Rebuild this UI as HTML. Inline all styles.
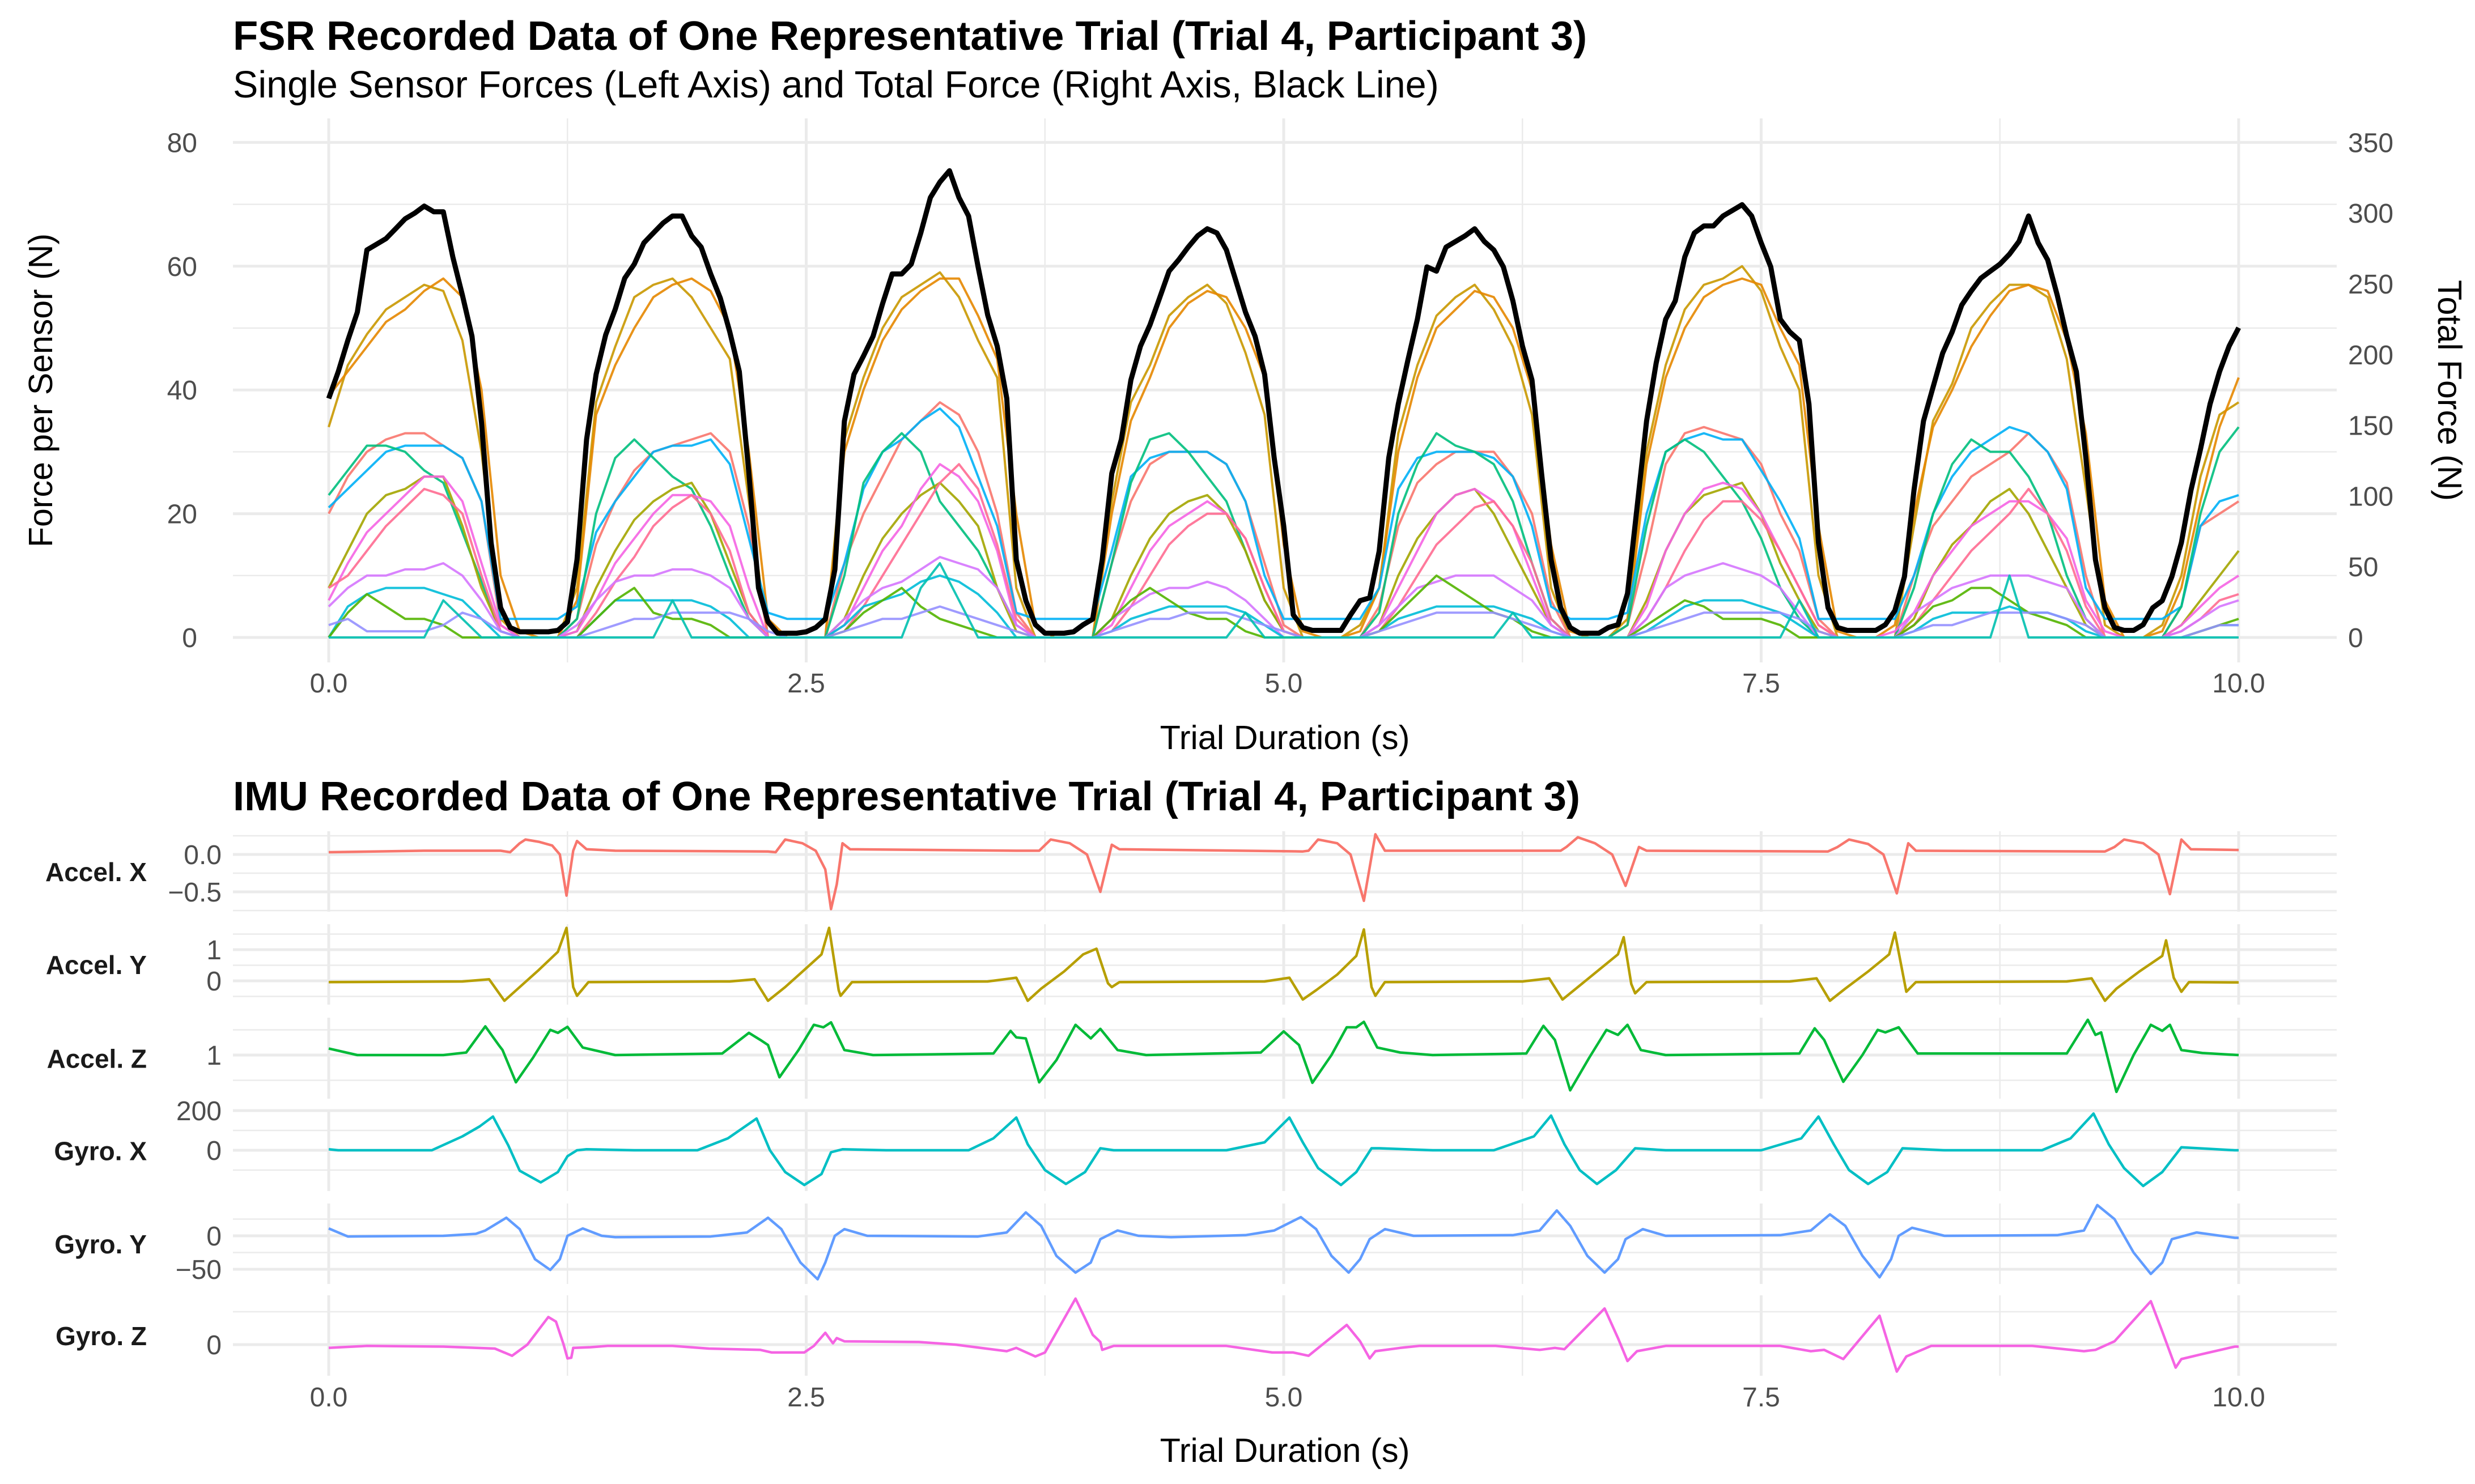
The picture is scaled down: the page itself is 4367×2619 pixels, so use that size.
<!DOCTYPE html>
<html><head><meta charset="utf-8">
<style>
html,body{margin:0;padding:0;background:#fff;}
svg{display:block;font-family:"Liberation Sans",Arial,sans-serif;}
</style></head>
<body>
<svg id="chart" width="4367" height="2619" viewBox="0 0 4367 2619" xmlns="http://www.w3.org/2000/svg">
<rect width="4367" height="2619" fill="#fff"/>
<g id="fsrGrid"></g>
<g id="fsrLines"></g>
<g id="fsrTotal"></g>
<g id="imu"></g>
<g id="txt">
<text x="411" y="88" font-size="72.5" font-weight="bold">FSR Recorded Data of One Representative Trial (Trial 4, Participant 3)</text>
<text x="411" y="172" font-size="66.5">Single Sensor Forces (Left Axis) and Total Force (Right Axis, Black Line)</text>
<text transform="translate(92,689) rotate(-90)" text-anchor="middle" font-size="59">Force per Sensor (N)</text>
<text transform="translate(4302,689) rotate(90)" text-anchor="middle" font-size="59">Total Force (N)</text>
<text x="2267" y="1322" text-anchor="middle" font-size="59.5">Trial Duration (s)</text>
<text x="411" y="1430" font-size="72.5" font-weight="bold">IMU Recorded Data of One Representative Trial (Trial 4, Participant 3)</text>
<text x="2267" y="2580" text-anchor="middle" font-size="59.5">Trial Duration (s)</text>
</g>
</svg>
<script>
// ---------- FSR data ----------
const totalTime0 = 0, totalStep = 0.05;
const totalForceN = [
169,188,210,230,274,278,282,289,296,300,305,301,301,269,242,213,152,67,21,7,
4,4,4,4,5,11,55,140,186,214,232,254,264,279,286,293,298,298,284,276,
257,240,216,188,116,35,11,3,3,3,4,7,13,48,153,186,199,213,236,257,
257,264,286,311,322,330,311,298,262,228,206,169,55,26,9,3,3,3,4,9,
13,55,116,140,182,206,221,240,259,267,276,284,289,286,274,252,230,213,186,127,
79,16,7,5,5,5,5,16,26,28,61,127,165,196,225,262,259,276,280,284,
289,280,274,262,238,206,182,116,55,21,7,3,3,3,7,9,31,92,153,194,
225,238,269,286,291,291,298,302,306,298,279,262,225,216,210,165,67,21,7,5,
5,5,5,9,19,43,104,153,177,201,216,235,245,254,259,264,271,280,298,279,
267,242,213,188,127,55,21,7,5,5,9,21,26,43,67,104,133,165,188,206,
219];
const sensorStep = 0.1;
const sensorNames = ['gold','orange','salmon','blue','teal-green','olive','pink','rose','purple','cyan','green','lavender','teal'];
const sensorColors = ['#C99800','#E58700','#F8766D','#00B0F6','#00BF7D','#A3A500','#F564E3','#FF6C91','#D575FE','#00BCD8','#53B400','#9590FF','#00C0AF'];
const sGold = [34,44,49,53,55,57,56,48,30,3, 0,0,0,8,38,47,55,57,58,55, 50,45,22,0,0,0,0,32,42,50, 55,57,59,55,48,42,8,0,0,0, 0,22,38,44,52,55,57,54,46,36, 8,0,0,0,2,8,33,44,52,55, 57,53,47,36,8,0,0,0,3,30, 44,53,57,58,60,56,47,40,10,0, 0,0,0,18,35,41,50,54,57,57, 55,45,24,2,0,0,2,10,26,36, 38];
const sOrange = [39,43,47,51,53,56,58,55,40,10, 1,0,0,6,36,44,50,55,57,58, 56,50,30,3,0,0,0,30,40,48, 53,56,58,58,52,45,20,2,0,0, 0,20,35,42,50,54,56,55,50,42, 15,1,0,0,1,8,30,42,50,53, 56,55,50,40,15,1,0,0,2,28, 42,50,55,57,58,57,50,44,18,1, 0,0,2,20,34,40,47,52,56,57, 56,48,33,6,0,0,1,8,22,34, 42];
const sSalmon = [20,26,30,32,33,33,31,29,22,2, 0,0,0,3,15,22,27,30,31,32, 33,30,18,0,0,0,0,12,20,26, 32,35,38,36,30,20,4,0,0,0, 0,12,22,28,30,30,30,28,22,12, 2,0,0,0,0,5,18,25,28,30, 30,30,26,20,6,0,0,0,2,14, 28,33,34,33,32,28,20,14,3,0, 0,0,0,10,18,22,26,28,30,33, 30,25,10,0,0,0,0,5,18,20, 22];
const sBlue = [21,24,27,30,31,31,31,29,22,3, 3,3,3,5,17,22,26,30,31,31, 32,28,16,4,3,3,3,12,24,30, 32,35,37,34,26,18,4,3,3,3, 3,14,26,29,30,30,30,28,22,10, 3,3,3,3,3,8,24,29,30,30, 30,29,26,18,5,3,3,3,4,20, 30,32,33,32,32,27,22,16,3,3, 3,3,3,10,20,26,30,32,34,33, 30,24,8,3,3,3,3,5,18,22, 23];
const sTealGreen = [23,27,31,31,30,27,25,17,9,1, 0,0,0,3,20,29,32,29,26,24, 18,10,3,0,0,0,0,10,25,30, 33,30,22,18,14,8,2,0,0,0, 0,12,25,32,33,30,26,22,14,6, 1,0,0,0,0,4,20,28,33,31, 30,28,22,12,3,0,0,0,2,18, 30,32,30,26,22,16,8,3,0,0, 0,0,0,8,20,28,32,30,30,26, 20,10,3,0,0,0,0,5,20,30, 34];
const sOlive = [8,14,20,23,24,26,26,18,8,1, 0,0,0,1,8,14,19,22,24,25, 20,12,4,0,0,0,0,3,10,16, 20,23,25,22,18,8,1,0,0,0, 0,3,10,16,20,22,23,20,14,6, 1,0,0,0,0,2,10,16,20,23, 24,20,14,8,2,0,0,0,0,6, 14,20,23,24,25,20,12,6,1,0, 0,0,0,3,10,15,18,22,24,20, 14,8,2,0,0,0,0,2,6,10, 14];
const sPink = [6,12,17,20,23,26,26,22,12,2, 0,0,0,1,6,12,16,20,23,23, 22,18,8,0,0,0,0,2,8,14, 18,24,28,26,22,14,2,0,0,0, 0,2,8,14,18,20,22,20,16,8, 1,0,0,0,0,2,8,14,20,23, 24,22,18,10,2,0,0,0,0,5, 14,20,24,25,24,20,14,8,2,0, 0,0,1,4,10,14,18,20,22,22, 20,16,6,1,0,0,0,2,5,8, 10];
const sRose = [8,10,14,18,21,24,23,20,10,1, 0,0,0,0,4,9,13,18,21,23, 20,14,4,0,0,0,0,1,5,10, 15,20,25,28,24,15,3,0,0,0, 0,1,5,10,15,18,20,20,16,8, 1,0,0,0,0,1,5,10,15,18, 21,22,18,12,3,0,0,0,0,3, 8,14,19,22,22,19,14,8,2,0, 0,0,0,2,6,10,14,17,20,24, 20,14,5,0,0,0,0,1,3,6, 7];
const sPurple = [5,8,10,10,11,11,12,10,6,1, 0,0,0,2,6,9,10,10,11,11, 10,8,3,0,0,0,0,3,6,8, 9,11,13,12,11,8,2,0,0,0, 0,3,5,7,8,8,9,8,6,3, 0,0,0,0,0,2,5,8,9,10, 10,10,8,6,2,0,0,0,0,3, 8,10,11,12,11,10,8,4,0,0, 0,0,0,4,6,8,9,10,10,10, 9,8,3,0,0,0,0,1,3,5, 6];
const sCyan = [0,5,7,8,8,8,7,6,3,0, 0,0,0,0,3,6,6,6,6,6, 5,3,0,0,0,0,0,2,5,6, 7,9,10,9,7,4,0,0,0,0, 0,1,3,4,5,5,5,5,4,2, 0,0,0,0,0,1,3,4,5,5, 5,5,4,3,1,0,0,0,0,1, 3,5,6,6,6,5,4,2,0,0, 0,0,0,1,3,4,4,4,5,4, 4,3,1,0,0,0,0,0,1,2, 2];
const sGreen = [0,4,7,5,3,3,2,0,0,0, 0,0,0,0,3,6,8,4,3,3, 2,0,0,0,0,0,0,1,4,6, 8,5,3,2,1,0,0,0,0,0, 0,3,6,8,6,4,3,3,1,0, 0,0,0,0,0,1,4,7,10,8, 6,4,3,1,0,0,0,0,0,2, 4,6,5,3,3,3,2,0,0,0, 0,0,0,2,5,6,8,8,6,4, 3,2,0,0,0,0,0,0,1,2, 3];
const sLavender = [2,3,1,1,1,1,2,4,3,1, 0,0,0,0,1,2,3,3,4,4, 4,4,3,1,0,0,0,1,2,3, 3,4,5,4,3,2,1,0,0,0, 0,1,2,3,3,4,4,4,3,2, 1,0,0,0,0,1,2,3,4,4, 4,4,3,2,1,0,0,0,0,1, 2,3,4,4,4,4,4,3,1,0, 0,0,0,1,2,2,3,4,4,4, 4,3,2,0,0,0,0,0,1,2, 2];
const sTeal = [0,0,0,0,0,0,6,3,0,0, 0,0,0,0,0,0,0,0,6,0, 0,0,0,0,0,0,0,0,0,0, 0,8,12,6,0,0,0,0,0,0, 0,0,0,0,0,0,0,0,4,0, 0,0,0,0,0,0,0,0,0,0, 0,0,4,0,0,0,0,0,0,0, 0,0,0,0,0,0,0,6,0,0, 0,0,0,0,0,0,0,0,10,0, 0,0,0,0,0,0,0,0,0,0, 0];
const sensorSeries = [sGold,sOrange,sSalmon,sBlue,sTealGreen,sOlive,sPink,sRose,sPurple,sCyan,sGreen,sLavender,sTeal];
const xTicks = [0, 2.5, 5, 7.5, 10];
const xTickLabels = ['0.0','2.5','5.0','7.5','10.0'];
const leftTicks = [0,20,40,60,80];
const rightTicks = [0,50,100,150,200,250,300,350];
const secAxisFactor = 4.375;

// ---------- IMU data (time, value) ----------
const axT = [0,0.5,0.9,0.95,1.0,1.03,1.1,1.17,1.21,1.245,1.28,1.30,1.35,1.5,2.3,2.34,2.39,2.48,2.55,2.6,2.63,2.66,2.69,2.73,3.6,3.72,3.78,3.88,3.97,4.04,4.1,4.14,5.1,5.13,5.18,5.28,5.35,5.42,5.48,5.53,6.45,6.48,6.54,6.63,6.72,6.79,6.86,6.9,7.85,7.9,7.96,8.06,8.14,8.21,8.27,8.31,9.3,9.35,9.4,9.5,9.58,9.64,9.7,9.75,10];
const axV = [0.03,0.05,0.05,0.03,0.15,0.2,0.17,0.12,0.0,-0.55,0.05,0.18,0.07,0.05,0.04,0.03,0.2,0.15,0.05,-0.2,-0.73,-0.4,0.15,0.07,0.05,0.05,0.2,0.15,0.0,-0.5,0.13,0.07,0.04,0.05,0.2,0.15,0.0,-0.62,0.27,0.05,0.05,0.1,0.23,0.15,0.0,-0.42,0.1,0.05,0.04,0.1,0.2,0.14,0.0,-0.52,0.15,0.05,0.04,0.1,0.2,0.15,0.0,-0.53,0.2,0.07,0.06];
const ayT = [0,0.7,0.84,0.92,1.0,1.1,1.2,1.245,1.28,1.3,1.36,2.1,2.23,2.30,2.39,2.49,2.58,2.62,2.67,2.68,2.74,3.45,3.6,3.66,3.73,3.85,3.95,4.02,4.08,4.1,4.14,4.9,5.03,5.1,5.17,5.28,5.38,5.42,5.46,5.48,5.53,6.25,6.39,6.46,6.54,6.65,6.75,6.78,6.82,6.84,6.9,7.65,7.79,7.86,7.94,8.06,8.17,8.2,8.26,8.31,9.1,9.23,9.3,9.36,9.48,9.6,9.62,9.66,9.7,9.74,10];
const ayV = [-0.04,-0.02,0.05,-0.64,-0.2,0.35,0.93,1.7,-0.2,-0.48,-0.04,-0.02,0.05,-0.64,-0.2,0.35,0.85,1.7,-0.3,-0.48,-0.04,-0.02,0.1,-0.64,-0.25,0.3,0.85,1.03,-0.08,-0.2,-0.04,-0.02,0.1,-0.6,-0.3,0.2,0.8,1.65,-0.2,-0.48,-0.04,-0.02,0.08,-0.6,-0.2,0.35,0.85,1.4,-0.1,-0.4,-0.04,-0.02,0.08,-0.64,-0.25,0.3,0.85,1.55,-0.35,-0.04,-0.02,0.08,-0.64,-0.25,0.3,0.8,1.3,0.1,-0.35,-0.04,-0.05];
const azT = [0,0.15,0.6,0.72,0.82,0.89,0.91,0.98,1.07,1.16,1.2,1.25,1.33,1.5,2.06,2.2,2.26,2.3,2.36,2.46,2.54,2.59,2.63,2.7,2.85,3.48,3.57,3.6,3.65,3.72,3.81,3.91,3.99,4.04,4.13,4.28,4.88,5.0,5.05,5.08,5.15,5.25,5.33,5.38,5.42,5.49,5.61,5.78,6.27,6.36,6.42,6.5,6.6,6.69,6.75,6.8,6.87,7.0,7.7,7.78,7.83,7.93,8.03,8.11,8.15,8.22,8.32,9.1,9.21,9.25,9.28,9.36,9.45,9.54,9.6,9.64,9.7,9.81,10];
const azV = [1.13,1.0,1.0,1.05,1.57,1.2,1.1,0.46,0.95,1.5,1.44,1.56,1.15,1.0,1.03,1.44,1.3,1.2,0.56,1.1,1.6,1.55,1.65,1.1,1.0,1.03,1.48,1.35,1.33,0.46,0.9,1.6,1.33,1.52,1.1,1.0,1.05,1.47,1.3,1.2,0.45,1.0,1.55,1.55,1.66,1.15,1.05,1.0,1.03,1.58,1.3,0.3,0.95,1.5,1.4,1.6,1.1,1.0,1.03,1.53,1.3,0.47,1.0,1.5,1.45,1.55,1.03,1.03,1.7,1.4,1.45,0.27,1.0,1.6,1.48,1.6,1.1,1.04,1.0];
const gxT = [0,0.05,0.54,0.7,0.79,0.86,0.94,1.0,1.11,1.2,1.25,1.3,1.35,1.6,1.93,2.09,2.24,2.31,2.39,2.49,2.58,2.63,2.69,2.92,3.35,3.48,3.6,3.66,3.75,3.86,3.96,4.04,4.11,4.7,4.9,5.03,5.1,5.18,5.3,5.38,5.46,5.5,5.78,6.1,6.31,6.4,6.47,6.55,6.64,6.74,6.84,7.0,7.5,7.71,7.8,7.88,7.96,8.06,8.16,8.24,8.46,8.97,9.12,9.24,9.32,9.4,9.5,9.6,9.7,9.98,10];
const gxV = [5,0,0,70,120,170,25,-103,-162,-110,-30,0,5,0,0,60,160,0,-110,-175,-120,-10,5,0,0,60,165,30,-100,-170,-110,10,0,0,40,165,40,-90,-175,-110,10,10,0,0,70,175,30,-100,-170,-100,10,0,0,60,170,30,-100,-170,-110,10,0,0,60,185,30,-90,-180,-110,15,0,0];
const gyT = [0,0.1,0.6,0.77,0.82,0.93,1.0,1.08,1.16,1.21,1.25,1.33,1.43,1.5,2.0,2.19,2.3,2.37,2.47,2.56,2.6,2.65,2.7,2.82,3.4,3.55,3.65,3.73,3.81,3.91,3.99,4.04,4.13,4.24,4.41,4.8,4.95,5.09,5.17,5.25,5.34,5.4,5.45,5.53,5.68,6.2,6.34,6.43,6.5,6.59,6.68,6.75,6.79,6.88,7.0,7.6,7.76,7.86,7.94,8.03,8.12,8.18,8.22,8.29,8.46,9.05,9.19,9.26,9.35,9.45,9.54,9.6,9.65,9.78,9.98,10];
const gyV = [11,-1,0,3,8,27,10,-35,-51,-35,0,11,0,-2,-1,5,27,10,-40,-65,-40,0,10,0,-1,5,35,15,-30,-55,-40,-5,8,0,-2,1,8,28,10,-30,-55,-35,-5,10,0,1,8,38,15,-30,-55,-35,-5,10,0,1,8,32,15,-30,-62,-35,0,12,0,1,8,46,25,-25,-57,-40,-5,5,-3,-3];
const gzT = [0,0.2,0.6,0.87,0.96,1.04,1.15,1.19,1.23,1.25,1.27,1.28,1.37,1.46,1.8,1.99,2.26,2.32,2.49,2.54,2.6,2.64,2.66,2.7,3.09,3.28,3.55,3.6,3.7,3.75,3.91,3.96,4.0,4.04,4.05,4.11,4.7,4.94,5.05,5.13,5.33,5.4,5.45,5.48,5.61,5.71,6.11,6.34,6.42,6.47,6.68,6.75,6.8,6.85,7.0,7.6,7.76,7.83,7.93,8.12,8.21,8.26,8.39,8.92,9.19,9.25,9.35,9.54,9.6,9.67,9.7,9.8,9.98,10];
const gzV = [-5,-2,-3,-6,-17,0,42,35,0,-21,-20,-5,-4,-2,-2,-6,-8,-12,-12,-2,18,2,10,5,4,0,-10,-5,-18,-12,70,40,15,4,-8,-2,-2,-12,-12,-17,30,5,-21,-10,-5,-2,-2,-8,-5,-7,55,10,-25,-10,-2,-2,-10,-8,-22,44,-41,-18,-2,-2,-10,-8,5,66,20,-35,-22,-15,-3,-3];

const imuNames = ['Accel. X','Accel. Y','Accel. Z','Gyro. X','Gyro. Y','Gyro. Z'];
const imuColors = ['#F8766D','#B79F00','#00BA38','#00BFC4','#619CFF','#F564E3'];
const imuTimes = [axT,ayT,azT,gxT,gyT,gzT];
const imuValues = [axV,ayV,azV,gxV,gyV,gzV];
const imuMajor = [[0,-0.5],[1,0],[1],[200,0],[0,-50],[0]];
const imuMajorLabels = [['0.0','\u22120.5'],['1','0'],['1'],['200','0'],['0','\u221250'],['0']];
const imuMinor = [[0.25,-0.25,-0.75],[1.5,0.5,-0.5],[1.5,0.5],[100,-100],[25,-25],[50]];

// ---------- layout / scales ----------
const NS = 'http://www.w3.org/2000/svg';
const PX0 = 411, PX1 = 4123;
const sx = t => 580 + t * 337;
const syL = v => 1125 - v * 10.92;
const syR = v => syL(v / secAxisFactor);
const strips = [
  {top:1467,bot:1609,y:v=>1508 - v*132},
  {top:1631,bot:1773,y:v=>1731 - v*55},
  {top:1796,bot:1939,y:v=>1862 - (v-1)*89},
  {top:1959,bot:2102,y:v=>2030 - v*0.35},
  {top:2124,bot:2266,y:v=>2181 - v*1.18},
  {top:2286,bot:2428,y:v=>2373 - v*1.16}
];
const GRID = '#EBEBEB';

function mk(tag, attrs, parent){
  const el = document.createElementNS(NS, tag);
  for (const k in attrs) el.setAttribute(k, attrs[k]);
  parent.appendChild(el);
  return el;
}
const gGrid = document.getElementById('fsrGrid');
const gLines = document.getElementById('fsrLines');
const gTot = document.getElementById('fsrTotal');
const gImu = document.getElementById('imu');
const gTxt = document.getElementById('txt');

for (let v = 10; v <= 70; v += 20) {
  const l = mk('line',{x1:PX0,x2:PX1,y1:syL(v),y2:syL(v),stroke:GRID,'stroke-width':2.5},gGrid);
  
  
}
for (let i = 0; i < xTicks.length - 1; i++) {
  const t = (xTicks[i] + xTicks[i+1]) / 2;
  const l = mk('line',{x1:sx(t),x2:sx(t),y1:209,y2:1169,stroke:GRID,'stroke-width':2.5},gGrid);
  
  
}
leftTicks.forEach(v => {
  const l = mk('line',{x1:PX0,x2:PX1,y1:syL(v),y2:syL(v),stroke:GRID,'stroke-width':5},gGrid);
  
  
  const t = mk('text',{x:348,y:syL(v)+17,'text-anchor':'end','font-size':48,fill:'#4D4D4D'},gTxt);
  t.textContent = String(v);
  
  
});
rightTicks.forEach(v => {
  const t = mk('text',{x:4143,y:syR(v)+17,'font-size':48,fill:'#4D4D4D'},gTxt);
  t.textContent = String(v);
  
  
});
xTicks.forEach((v,i) => {
  const l = mk('line',{x1:sx(v),x2:sx(v),y1:209,y2:1169,stroke:GRID,'stroke-width':5},gGrid);
  
  
  const t = mk('text',{x:sx(v),y:1222,'text-anchor':'middle','font-size':48,fill:'#4D4D4D'},gTxt);
  t.textContent = xTickLabels[i];
  
  
  const b = mk('text',{x:sx(v),y:2482,'text-anchor':'middle','font-size':48,fill:'#4D4D4D'},gTxt);
  b.textContent = xTickLabels[i];
  
  
});

sensorSeries.forEach((arr, si) => {
  const d = arr.map((v,i) => (i ? 'L' : 'M') + sx(i*sensorStep).toFixed(1) + ' ' + syL(v).toFixed(1)).join(' ');
  const p = mk('path',{d:d,fill:'none',stroke:sensorColors[si],'stroke-width':4,'stroke-linejoin':'round',opacity:0.9},gLines);
  
  
});
{
  const d = totalForceN.map((v,i) => (i ? 'L' : 'M') + sx(totalTime0 + i*totalStep).toFixed(1) + ' ' + syR(v).toFixed(1)).join(' ');
  const p = mk('path',{d:d,fill:'none',stroke:'#000','stroke-width':9,'stroke-linejoin':'round'},gTot);
  
  
}

strips.forEach((s, k) => {
  const g = mk('g',{},gImu);
  
  
  for (let i = 0; i < xTicks.length - 1; i++) {
    const t = (xTicks[i] + xTicks[i+1]) / 2;
    const l = mk('line',{x1:sx(t),x2:sx(t),y1:s.top,y2:s.bot,stroke:GRID,'stroke-width':2.5},g);
    
    
  }
  imuMinor[k].forEach(v => {
    const l = mk('line',{x1:PX0,x2:PX1,y1:s.y(v),y2:s.y(v),stroke:GRID,'stroke-width':2.5},g);
    
    
  });
  xTicks.forEach(v => {
    const l = mk('line',{x1:sx(v),x2:sx(v),y1:s.top,y2:s.bot,stroke:GRID,'stroke-width':5},g);
    
    
  });
  imuMajor[k].forEach((v,i) => {
    const l = mk('line',{x1:PX0,x2:PX1,y1:s.y(v),y2:s.y(v),stroke:GRID,'stroke-width':5},g);
    
    
    const t = mk('text',{x:391,y:s.y(v)+17,'text-anchor':'end','font-size':48,fill:'#4D4D4D'},g);
    t.textContent = imuMajorLabels[k][i];
    
    
  });
  const lab = mk('text',{x:259,y:(s.top+s.bot)/2+17,'text-anchor':'end','font-size':46,'font-weight':'bold',fill:'#1A1A1A'},g);
  lab.textContent = imuNames[k];
  
  
  const T = imuTimes[k], V = imuValues[k];
  const d = T.map((t,i) => (i ? 'L' : 'M') + sx(t).toFixed(1) + ' ' + s.y(V[i]).toFixed(1)).join(' ');
  const p = mk('path',{d:d,fill:'none',stroke:imuColors[k],'stroke-width':4.5,'stroke-linejoin':'round'},g);
  
  
});
</script>
</body></html>
